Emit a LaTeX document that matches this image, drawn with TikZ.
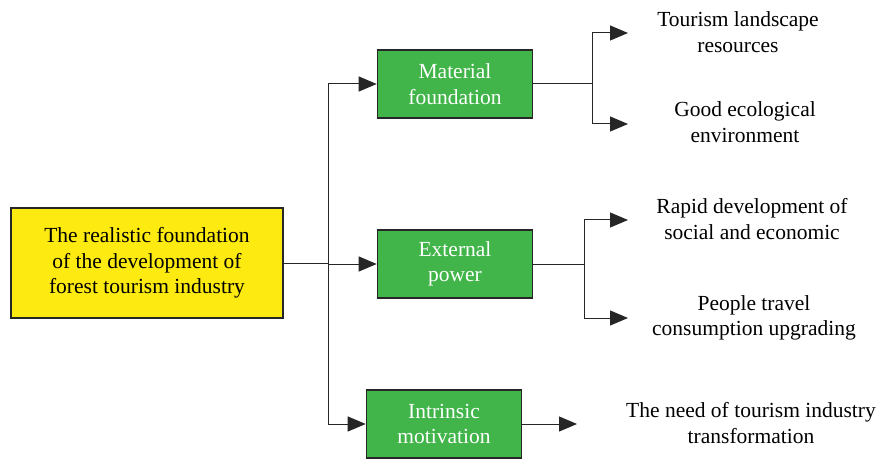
\documentclass[tikz,border=0pt]{standalone}
\usepackage{fontspec}
\setmainfont{Liberation Serif}
\usetikzlibrary{arrows.meta}
\definecolor{boxyellow}{HTML}{FCEA10}
\definecolor{boxgreen}{HTML}{41B54A}
\tikzset{
  mainbox/.style={draw=black!85,line width=1.6pt,fill=boxyellow,minimum width=272pt,minimum height=110pt,align=center,font=\fontsize{21.5}{25.5}\selectfont},
  subbox/.style={draw=black!85,line width=1.6pt,fill=boxgreen,text=white,minimum width=155pt,minimum height=68pt,align=center,font=\fontsize{21.5}{25.5}\selectfont},
  leaf/.style={align=center,font=\fontsize{21.5}{25.5}\selectfont},
  link/.style={line width=1pt,draw=black!85},
  arrowlink/.style={link,-{Triangle[length=18pt,width=15pt]}}
}
\begin{document}
\begin{tikzpicture}[x=1pt,y=-1pt]
			\useasboundingbox (0,0) rectangle (877,462);
			% Draw boxes
			\node[mainbox] (root) at (147,263) {The realistic foundation\\of the development of\\forest tourism industry};
			\node[subbox] (material) at (455,84) {Material\\foundation};
			\node[subbox] (external) at (455,264) {External\\power};
			\node[subbox] (intrinsic) at (444,424) {Intrinsic\\motivation};
			% Draw leaf texts
			\node[leaf] (landscape) at (738,32) {Tourism landscape\\resources};
			\node[leaf] (ecology) at (745,122) {Good ecological\\environment};
			\node[leaf] (social) at (752,219) {Rapid development of\\social and economic};
			\node[leaf] (travel) at (754,318) {People travel\\consumption upgrading};
			\node[leaf] (transform) at (751,423) {The need of tourism industry\\transformation};
			% Draw trunk
			\coordinate (trunktop) at (328,84);
			\coordinate (trunkbot) at (328,424);
			\draw[link] (trunktop) -- (trunkbot);
			\draw[link] (root.east) -- (328,263);
			\draw[arrowlink] (trunktop) -- (material.west);
			\draw[arrowlink] (328,264) -- (external.west);
			\draw[arrowlink] (trunkbot) -- (intrinsic.west);
			% Draw branches
			\draw[link] (material.east) -- (592,84);
			\draw[arrowlink] (592,84) |- (628,33);
			\draw[arrowlink] (592,84) |- (628,124);
			\draw[link] (external.east) -- (584,264);
			\draw[arrowlink] (584,264) |- (628,220);
			\draw[arrowlink] (584,264) |- (628,318);
			\coordinate (transtip) at (577,424);
			\draw[arrowlink] (intrinsic.east) -- (transtip);
		\end{tikzpicture}
\end{document}
